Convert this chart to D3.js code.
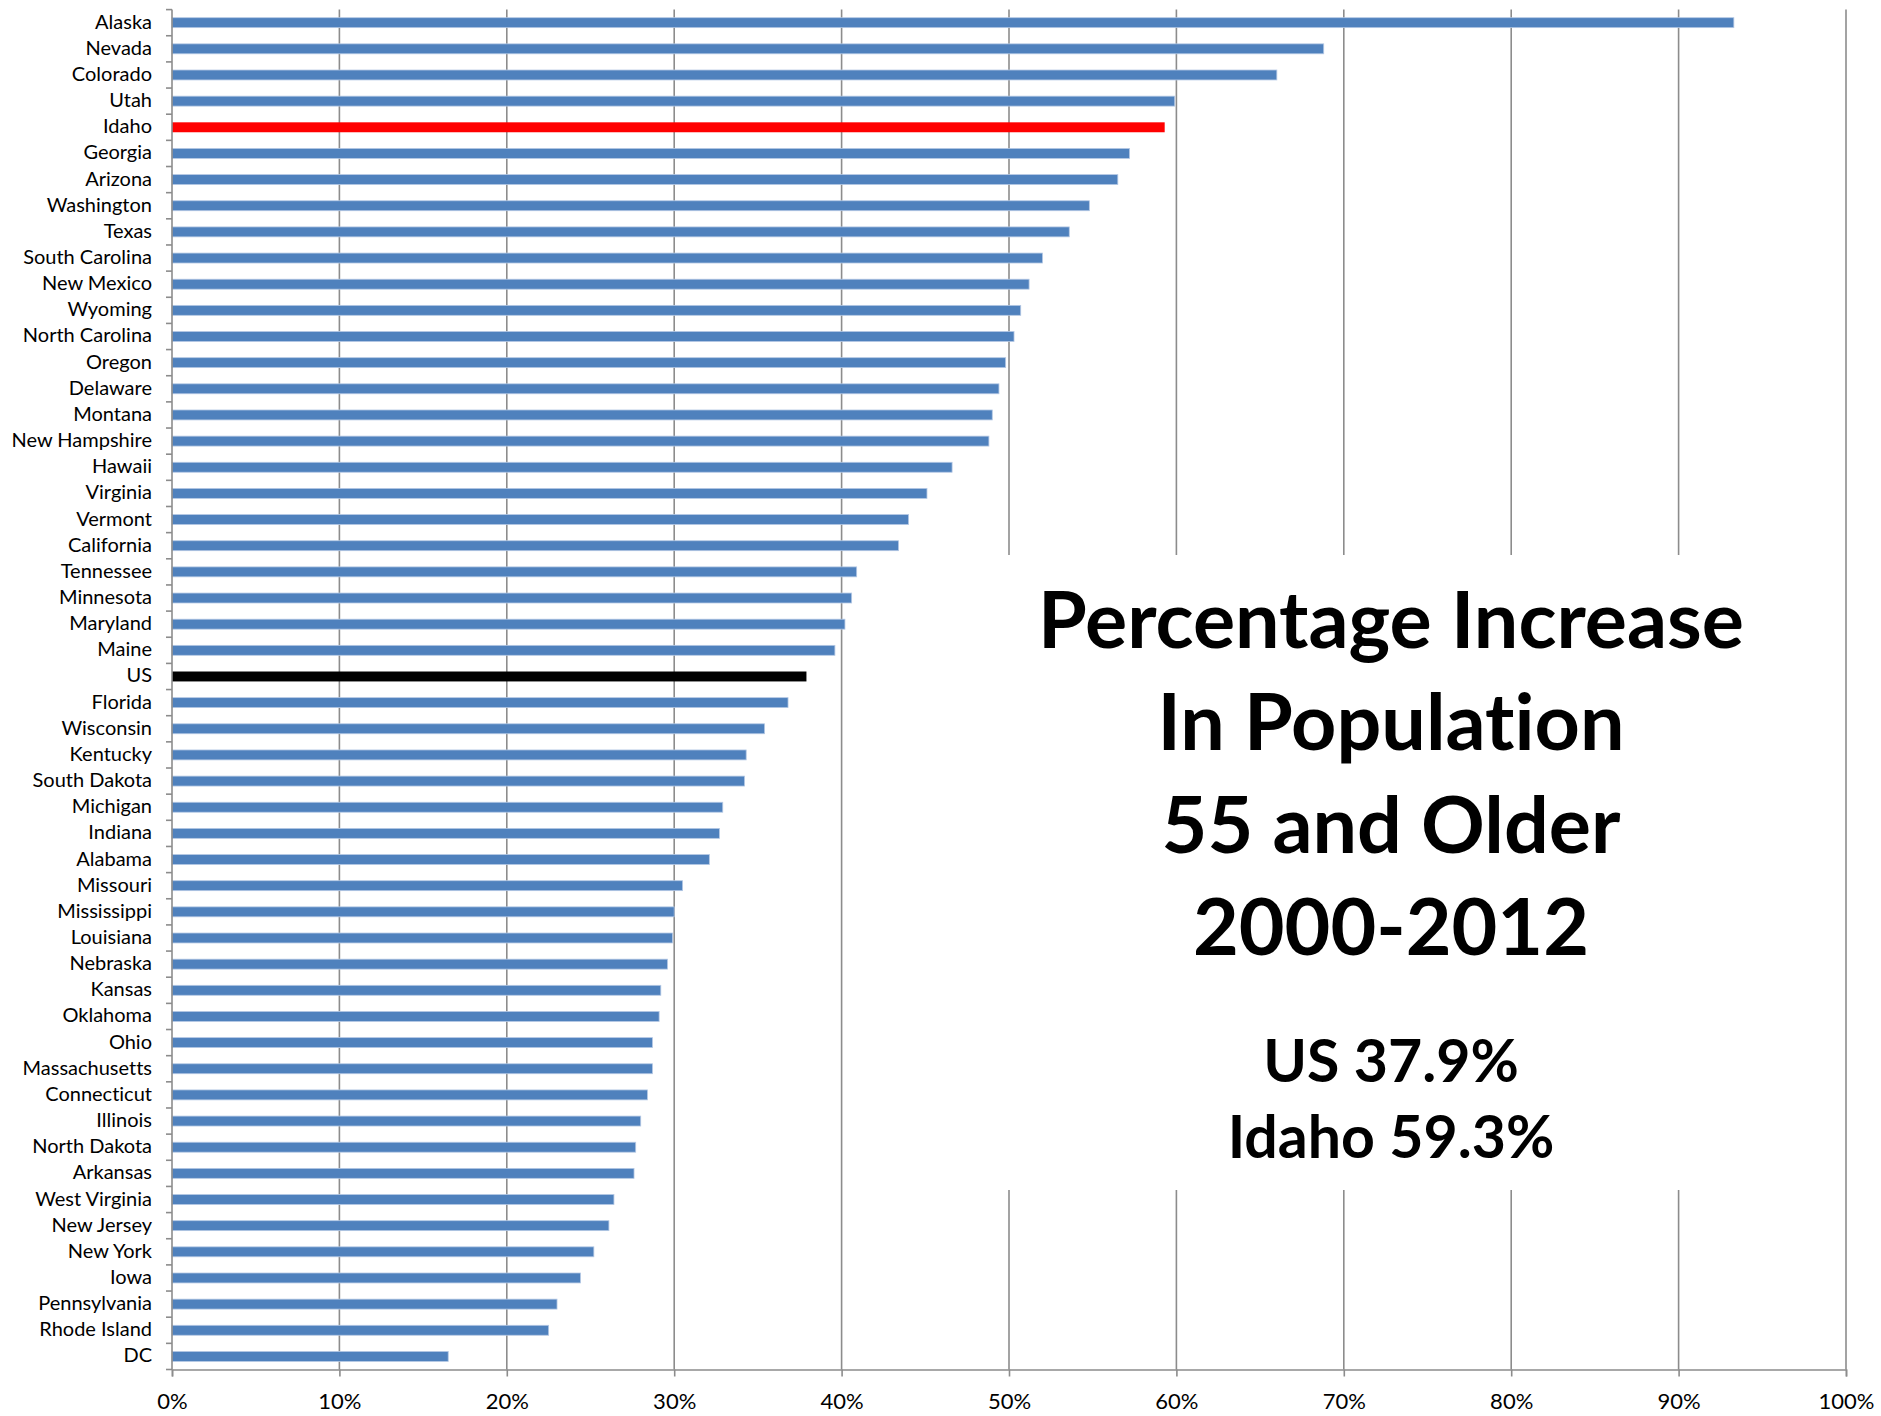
<!DOCTYPE html>
<html>
<head>
<meta charset="utf-8">
<script src="https://cdn.jsdelivr.net/npm/d3@7"></script>
<style>
  html, body { margin: 0; padding: 0; background: #fff; }
  svg { display: block; }
  text { font-variant-ligatures: none; font-feature-settings: "liga" 0, "clig" 0; }
</style>
</head>
<body>
<svg id="chart" width="1881" height="1416"></svg>
<script>
const categories = ["Alaska","Nevada","Colorado","Utah","Idaho","Georgia","Arizona","Washington","Texas","South Carolina","New Mexico","Wyoming","North Carolina","Oregon","Delaware","Montana","New Hampshire","Hawaii","Virginia","Vermont","California","Tennessee","Minnesota","Maryland","Maine","US","Florida","Wisconsin","Kentucky","South Dakota","Michigan","Indiana","Alabama","Missouri","Mississippi","Louisiana","Nebraska","Kansas","Oklahoma","Ohio","Massachusetts","Connecticut","Illinois","North Dakota","Arkansas","West Virginia","New Jersey","New York","Iowa","Pennsylvania","Rhode Island","DC"];
const values = [0.933,0.688,0.660,0.599,0.593,0.572,0.565,0.548,0.536,0.520,0.512,0.507,0.503,0.498,0.494,0.490,0.488,0.466,0.451,0.440,0.434,0.409,0.406,0.402,0.396,0.379,0.368,0.354,0.343,0.342,0.329,0.327,0.321,0.305,0.300,0.299,0.296,0.292,0.291,0.287,0.287,0.284,0.280,0.277,0.276,0.264,0.261,0.252,0.244,0.230,0.225,0.165];
const xTicks = [0,0.1,0.2,0.3,0.4,0.5,0.6,0.7,0.8,0.9,1.0];
const highlightColors = { "Idaho": "#FF0000", "US": "#000000" };
const titleLines = ["Percentage Increase","In Population","55 and Older","2000-2012"];
const subLines = ["US 37.9%","Idaho 59.3%"];

(function () {
const svg = d3.select("#chart");
const pLeft = 172, pRight = 1846, pTop = 9.6, pBottom = 1369.5;
const x = d3.scaleLinear().domain([0, 1]).range([pLeft, pRight]);
const y = d3.scaleBand().domain(categories).range([pTop, pBottom]).paddingInner(0.62).paddingOuter(0.31);
const grid = "#8C8C8C";
const font = "Lato, 'Open Sans', sans-serif";

// gridlines
svg.append("g").selectAll("line").data(xTicks.slice(1)).join("line")
  .attr("x1", d => x(d)).attr("x2", d => x(d))
  .attr("y1", pTop).attr("y2", pBottom)
  .attr("stroke", grid).attr("stroke-width", 1.6);

// bars
svg.append("g").selectAll("rect").data(categories).join("rect")
  .attr("x", x(0))
  .attr("y", d => y(d))
  .attr("width", (d, i) => x(values[i]) - x(0))
  .attr("height", y.bandwidth())
  .attr("fill", d => highlightColors[d] || "#4F81BD")
  .attr("stroke", d => highlightColors[d] ? "none" : "#B4C8E4")
  .attr("stroke-width", 0.8);

// white box behind title
svg.append("rect").attr("x", 1000).attr("y", 555).attr("width", 780).attr("height", 635).attr("fill", "#fff");

// y axis
const yAxisG = svg.append("g").attr("transform", `translate(${pLeft},0)`);
yAxisG.append("line").attr("x1", 0).attr("x2", 0).attr("y1", pTop).attr("y2", pBottom).attr("stroke", grid).attr("stroke-width", 1.6);
const step = y.step();
const yTickPos = d3.range(categories.length + 1).map(i => pTop + i * step);
yAxisG.selectAll("line.tk").data(yTickPos).join("line").attr("class", "tk")
  .attr("x1", -6).attr("x2", 0).attr("y1", d => d).attr("y2", d => d)
  .attr("stroke", grid).attr("stroke-width", 1.6);
yAxisG.selectAll("text").data(categories).join("text")
  .attr("x", -20).attr("y", d => y(d) + y.bandwidth() / 2 - 1)
  .attr("dy", "0.35em").attr("text-anchor", "end")
  .attr("font-family", font).attr("font-size", 20).attr("fill", "#000")
  .text(d => d);

// x axis
const xAxis = d3.axisBottom(x).tickValues(xTicks).tickFormat(d3.format(".0%")).tickSize(7).tickPadding(17);
const xg = svg.append("g").attr("transform", `translate(0,${pBottom})`).call(xAxis);
xg.select(".domain").attr("stroke", grid).attr("stroke-width", 1.6);
xg.selectAll(".tick line").attr("stroke", grid).attr("stroke-width", 1.6);
xg.selectAll(".tick text").attr("font-family", font).attr("font-size", 22).attr("fill", "#000");

// title
const cx = 1391;
svg.append("g").selectAll("text").data(titleLines).join("text")
  .attr("x", cx).attr("y", (d, i) => 648 + i * 102.3)
  .attr("text-anchor", "middle").attr("font-family", font).attr("font-weight", "bold")
  .attr("font-size", 79).attr("fill", "#000").text(d => d);
svg.append("g").selectAll("text").data(subLines).join("text")
  .attr("x", cx).attr("y", (d, i) => 1082 + i * 76)
  .attr("text-anchor", "middle").attr("font-family", font).attr("font-weight", "bold")
  .attr("font-size", 59).attr("fill", "#000").text(d => d);
})();
</script>
</body>
</html>
